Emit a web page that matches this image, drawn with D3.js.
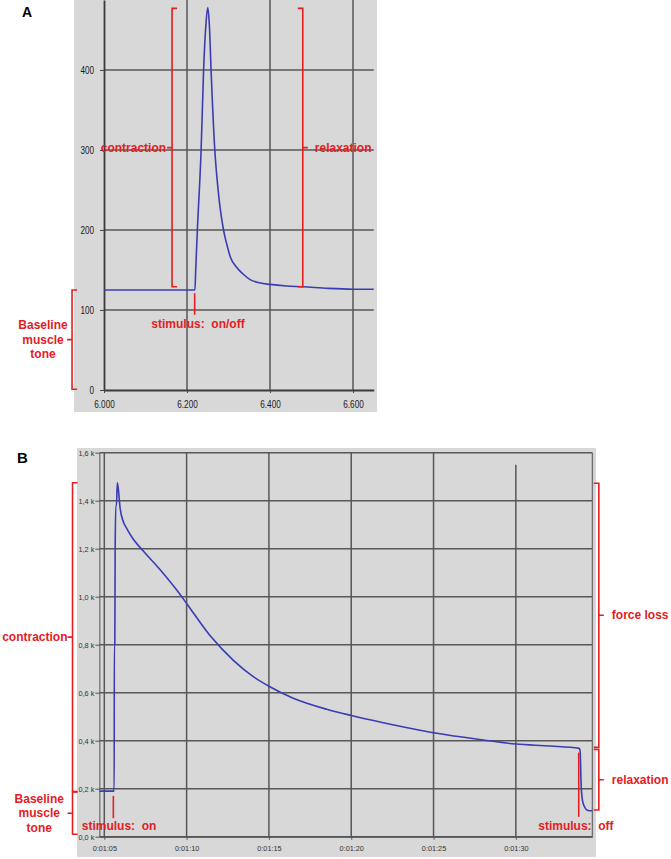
<!DOCTYPE html>
<html>
<head>
<meta charset="utf-8">
<script src="https://cdn.jsdelivr.net/npm/d3@7"></script>
<style>
  body { margin: 0; background: #fff; }
  svg { display: block; }
  .note { font-family: "Liberation Sans", Arial, sans-serif; font-weight: bold; font-size: 12px; fill: #e3201f; white-space: pre; }
  .tickA text { font-family: "Liberation Sans", Arial, sans-serif; font-size: 10.6px; fill: #1a1a1a; }
  .tickB text { font-family: "Liberation Sans", Arial, sans-serif; font-size: 7.3px; fill: #333; }
</style>
</head>
<body>
<div id="chart"></div>
<script>
// ---- panel A: single twitch (time in s, force) ----
const aTime  = [6.000, 6.219, 6.221, 6.225, 6.234, 6.240, 6.246, 6.250, 6.254, 6.258, 6.267, 6.275, 6.288, 6.297, 6.304, 6.320, 6.335, 6.352, 6.375, 6.400, 6.440, 6.480, 6.540, 6.600, 6.650];
const aForce = [125,   125,   150,   200,   300,   400,   460,   478,   455,   400,   300,   250,   200,   180,   167,   153,   145,   138,   134,   132,   130,   129,   127,   126,   126];
const aXTicks = [6.0, 6.2, 6.4, 6.6];
const aYTicks = [0, 100, 200, 300, 400];

// ---- panel B: tetanic contraction (time in s, force in k) ----
const bTime  = [64.70, 65.60, 65.61, 65.64, 65.66, 65.70, 65.74, 65.79, 65.85, 65.95, 66.15, 66.36, 66.66, 67.37, 68.30, 69.40, 70.00, 71.42, 72.84, 74.05, 75.00, 76.48, 78.51, 80.00, 81.95, 85.00, 88.03, 90.00, 92.08, 93.85, 93.90, 93.97, 94.05, 94.17, 94.30, 94.48, 94.63];
const bForce = [0.19,  0.19,  0.80,  0.80,  1.20,  1.38,  1.38,  1.475, 1.45,  1.375, 1.313, 1.285, 1.25,  1.19,  1.12,  1.028, 0.972, 0.838, 0.735, 0.667, 0.627, 0.577, 0.531, 0.505, 0.475, 0.433, 0.403, 0.386, 0.378, 0.368, 0.360, 0.210, 0.150, 0.125, 0.112, 0.108, 0.108];
const bXTicks = [65, 70, 75, 80, 85, 90];
const bXLabels = ["0:01:05", "0:01:10", "0:01:15", "0:01:20", "0:01:25", "0:01:30"];
const bYTicks = [0, 0.2, 0.4, 0.6, 0.8, 1.0, 1.2, 1.4, 1.6];
const bYLabels = ["0,0 k", "0,2 k", "0,4 k", "0,6 k", "0,8 k", "1,0 k", "1,2 k", "1,4 k", "1,6 k"];

const red = "#e3201f", blue = "#3a3cb4", grid = "#575757", panelFill = "#d8d8d8";
const narrow = 0.77;   // panel A tick labels in the original are condensed

const svg = d3.select("#chart").append("svg")
    .attr("width", 671)
    .attr("height", 859);

// draw a red bracket: dir = 1 opens to the right "[", dir = -1 opens to the left "]"
function bracket(x, yTop, yBot, dir) {
    const mid = (yTop + yBot) / 2;
    svg.append("path")
        .attr("d", `M${x + dir * 5},${yTop}H${x}V${yBot}H${x + dir * 5}M${x},${mid}H${x - dir * 5}`)
        .attr("fill", "none")
        .attr("stroke", red)
        .attr("stroke-width", 1.6);
    return mid;
}

function note(x, y, txt, anchor) {
    svg.append("text").attr("class", "note")
        .attr("x", x).attr("y", y)
        .attr("text-anchor", anchor)
        .text(txt);
}

function baselineNote(x, yMid) {
    ["Baseline", "muscle", "tone"].forEach((t, i) => {
        note(x, yMid + (i - 1) * 14.4 + 4, t, "middle");
    });
}

// squeeze the tick labels horizontally
function condenseLeft(g, offset) {
    g.selectAll(".tick text").attr("x", -offset / narrow).attr("transform", `scale(${narrow},1)`);
}
function condenseBottom(g) {
    g.selectAll(".tick text").attr("transform", `scale(${narrow},1)`);
}

// ================= panel A =================
const xA = d3.scaleLinear().domain([6.0, 6.65]).range([104, 373.75]);
const yA = d3.scaleLinear().domain([0, 487.5]).range([390, 0]);

svg.append("rect").attr("x", 74).attr("y", 0).attr("width", 303).attr("height", 412).attr("fill", panelFill);

const gA = svg.append("g");
gA.selectAll(".hgrid").data(aYTicks.filter(d => d > 0)).join("line")
    .attr("x1", xA(6.0)).attr("x2", xA(6.65))
    .attr("y1", d => yA(d)).attr("y2", d => yA(d))
    .attr("stroke", grid).attr("stroke-width", 1.5);
gA.selectAll(".vgrid").data(aXTicks.filter(d => d > 6.0)).join("line")
    .attr("x1", d => xA(d)).attr("x2", d => xA(d))
    .attr("y1", yA(487.5)).attr("y2", yA(0))
    .attr("stroke", grid).attr("stroke-width", 1.5);

const axAy = svg.append("g").attr("class", "tickA")
    .attr("transform", `translate(${xA(6.0)},0)`)
    .call(d3.axisLeft(yA).tickValues(aYTicks).tickFormat(d3.format("d")).tickSize(4).tickSizeOuter(0).tickPadding(6));
axAy.select(".domain").attr("stroke", "#3a3a3a").attr("stroke-width", 1.8);
axAy.selectAll(".tick line").attr("stroke", "#444");
condenseLeft(axAy, 10);

const axAx = svg.append("g").attr("class", "tickA")
    .attr("transform", `translate(0,${yA(0)})`)
    .call(d3.axisBottom(xA).tickValues(aXTicks).tickFormat(d3.format(".3f")).tickSize(3).tickSizeOuter(0).tickPadding(7));
axAx.select(".domain").attr("stroke", "#3a3a3a").attr("stroke-width", 2.2);
axAx.selectAll(".tick line").attr("stroke", "#444");
condenseBottom(axAx);

svg.append("path")
    .datum(aTime.map((t, i) => [t, aForce[i]]))
    .attr("d", d3.line().curve(d3.curveMonotoneX).x(d => xA(d[0])).y(d => yA(d[1])))
    .attr("fill", "none").attr("stroke", blue).attr("stroke-width", 1.6);

// annotations A
let m = bracket(xA(6.164), yA(477), yA(129), 1);
note(xA(6.164) - 6, m + 4, "contraction", "end");
m = bracket(xA(6.479), yA(477), yA(129), -1);
note(xA(6.479) + 12, m + 4, "relaxation", "start");
m = bracket(xA(5.923), yA(125), yA(1), 1);
baselineNote(xA(5.853), m);
svg.append("line").attr("x1", xA(6.2185)).attr("x2", xA(6.2185)).attr("y1", yA(121)).attr("y2", yA(94))
    .attr("stroke", red).attr("stroke-width", 1.6);
note(xA(6.2265), yA(77), "stimulus:  on/off", "middle");

svg.append("text").attr("x", 22).attr("y", 17)
    .attr("font-family", "Liberation Sans, Arial, sans-serif").attr("font-weight", "bold").attr("font-size", "14px")
    .text("A");

// ================= panel B =================
const xB = d3.scaleLinear().domain([64.7, 94.65]).range([99.36, 592.4]);
const yB = d3.scaleLinear().domain([0, 1.6]).range([836.7, 452.7]);

svg.append("rect").attr("x", 77).attr("y", 448).attr("width", 519).attr("height", 409).attr("fill", panelFill);

const gB = svg.append("g");
gB.selectAll(".hgrid").data(bYTicks).join("line")
    .attr("x1", xB(64.7)).attr("x2", xB(94.65))
    .attr("y1", d => yB(d)).attr("y2", d => yB(d))
    .attr("stroke", grid).attr("stroke-width", 1.5);
gB.selectAll(".vgrid").data(bXTicks).join("line")
    .attr("x1", d => xB(d)).attr("x2", d => xB(d))
    .attr("y1", d => yB(d === 90 ? 1.55 : 1.6)).attr("y2", yB(0))
    .attr("stroke", grid).attr("stroke-width", 1.5);
// right border of the plot frame
svg.append("line").attr("x1", xB(94.65)).attr("x2", xB(94.65)).attr("y1", yB(1.6)).attr("y2", yB(0))
    .attr("stroke", "#707070").attr("stroke-width", 1.4);

const axBy = svg.append("g").attr("class", "tickB")
    .attr("transform", `translate(${xB(64.7)},0)`)
    .call(d3.axisLeft(yB).tickValues(bYTicks).tickFormat((d, i) => bYLabels[i]).tickSize(4).tickSizeOuter(0).tickPadding(1));
axBy.select(".domain").attr("stroke", "#555").attr("stroke-width", 1);
axBy.selectAll(".tick line").attr("stroke", "#555");

const axBx = svg.append("g").attr("class", "tickB")
    .attr("transform", `translate(0,${yB(0)})`)
    .call(d3.axisBottom(xB).tickValues(bXTicks).tickFormat((d, i) => bXLabels[i]).tickSize(3).tickSizeOuter(0).tickPadding(6));
axBx.select(".domain").attr("stroke", "#555").attr("stroke-width", 1.2);
axBx.selectAll(".tick line").attr("stroke", "#555");

svg.append("path")
    .datum(bTime.map((t, i) => [t, bForce[i]]))
    .attr("d", d3.line().curve(d3.curveMonotoneX).x(d => xB(d[0])).y(d => yB(d[1])))
    .attr("fill", "none").attr("stroke", blue).attr("stroke-width", 1.6);

// annotations B
m = bracket(xB(63.07), yB(1.475), yB(0.188), 1);
note(xB(63.07) - 5, m + 4, "contraction", "end");
m = bracket(xB(63.07), yB(0.186), yB(0.01), 1);
baselineNote(xB(61.05), m);
svg.append("line").attr("x1", xB(65.55)).attr("x2", xB(65.55)).attr("y1", yB(0.17)).attr("y2", yB(0.077))
    .attr("stroke", red).attr("stroke-width", 1.6);
note(xB(63.63), yB(0.03), "stimulus:  on", "start");

m = bracket(xB(95.04), yB(1.4725), yB(0.3725), -1);
note(xB(95.04) + 13, m + 4, "force loss", "start");
m = bracket(xB(95.04), yB(0.364), yB(0.111), -1);
note(xB(95.04) + 13, m + 4, "relaxation", "start");
svg.append("line").attr("x1", xB(93.82)).attr("x2", xB(93.82)).attr("y1", yB(0.35)).attr("y2", yB(0.083))
    .attr("stroke", red).attr("stroke-width", 1.6);
note(xB(93.65), yB(0.027), "stimulus:  off", "middle");

svg.append("text").attr("x", 17).attr("y", 463)
    .attr("font-family", "Liberation Sans, Arial, sans-serif").attr("font-weight", "bold").attr("font-size", "15px")
    .text("B");
</script>
</body>
</html>
